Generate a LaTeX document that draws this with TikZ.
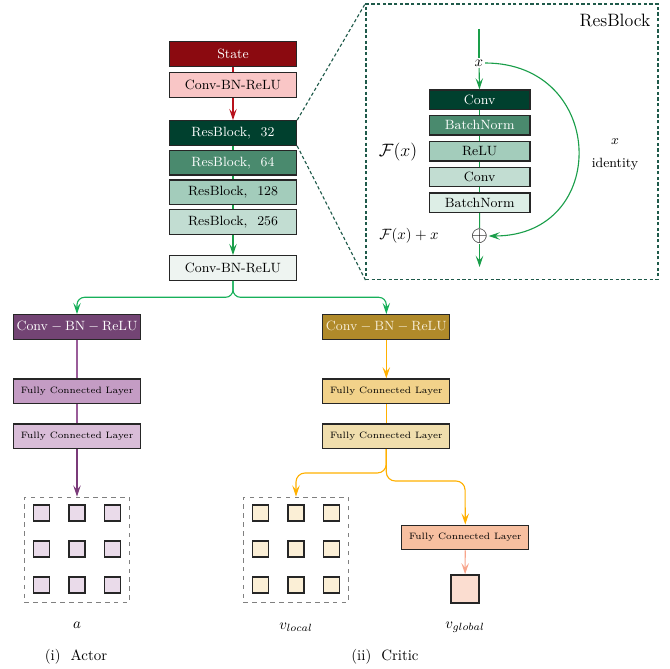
\documentclass[tikz,border=0pt]{standalone}
\usetikzlibrary{arrows.meta,positioning}
\definecolor{cState}{HTML}{8B0A10}
\definecolor{cPink}{HTML}{F9C6C6}
\definecolor{cRed}{HTML}{B8121C}
\definecolor{gA}{HTML}{00402E}
\definecolor{gB}{HTML}{4A8A6E}
\definecolor{gC}{HTML}{A3CCBB}
\definecolor{gD}{HTML}{C2DDD2}
\definecolor{gE}{HTML}{DDEEE6}
\definecolor{gF}{HTML}{EEF4F1}
\definecolor{cGreen}{HTML}{1A9E4A}
\definecolor{cGreenB}{HTML}{17B05A}
\definecolor{cTeal}{HTML}{1F5A4A}
\definecolor{pA}{HTML}{734474}
\definecolor{pB}{HTML}{C49CC4}
\definecolor{pC}{HTML}{D9BDD8}
\definecolor{pD}{HTML}{EADBEA}
\definecolor{cPurple}{HTML}{9A5C99}
\definecolor{cPurpleD}{HTML}{7A3A79}
\definecolor{oA}{HTML}{B08A2A}
\definecolor{oB}{HTML}{F2D28A}
\definecolor{oC}{HTML}{F0DEAD}
\definecolor{oD}{HTML}{FBEFD6}
\definecolor{cOrange}{HTML}{FFB000}
\definecolor{sA}{HTML}{F7BFA0}
\definecolor{sB}{HTML}{FBDDD0}
\definecolor{cSalmon}{HTML}{F7A58C}
\definecolor{cCream}{HTML}{F7EED8}
\tikzset{
  box/.style={draw=black!85, line width=0.9pt, minimum width=85.1pt, minimum height=16.4pt, inner sep=0pt, font=\small},
  ibox/.style={draw=black!85, line width=0.9pt, minimum width=67.5pt, minimum height=12.9pt, inner sep=0pt, font=\small},
  fcbox/.style={box, font=\fontsize{6.2}{7}\selectfont},
  sq/.style={draw=black!85, line width=0.8pt, minimum size=10.7pt, inner sep=0pt},
  gridbox/.style={draw=black!50, dashed, line width=0.8pt, minimum size=70.4pt, inner sep=0pt},
  conn/.style={line width=0.75pt},
  tip/.style={-{Stealth[length=7.5pt,width=5pt,inset=3pt]}},
}
\begin{document}
\begin{tikzpicture}[x=0.67pt,y=-0.67pt]
\useasboundingbox (0,0) rectangle (670,669);
% main column
\node[box, fill=cState, text=white] (state) at (233,54) {State};
\node[box, fill=cPink] (cbr1) at (233,85) {Conv-BN-ReLU};
\node[box, fill=gA, text=white] (rb1) at (233,133) {ResBlock,\hspace{6.5pt}32};
\node[box, fill=gB, text=white] (rb2) at (233,162.7) {ResBlock,\hspace{6.5pt}64};
\node[box, fill=gC] (rb3) at (233,192.3) {ResBlock,\hspace{6.5pt}128};
\node[box, fill=gD] (rb4) at (233,222) {ResBlock,\hspace{6.5pt}256};
\node[box, fill=gF] (cbr2) at (233,268) {Conv-BN-ReLU};
\draw[conn, cRed] (state) -- (cbr1);
\draw[conn, cRed, tip] (cbr1) -- (rb1);
\draw[conn, cGreen] (rb1) -- (rb2);
\draw[conn, cGreen] (rb2) -- (rb3);
\draw[conn, cGreen] (rb3) -- (rb4);
\draw[conn, cGreen, tip] (rb4) -- (cbr2);
% inset
\node[draw=cTeal, dash pattern=on 2.2pt off 1.6pt, line width=0.8pt, minimum width=195.6pt, minimum height=184.6pt, inner sep=0pt] (inset) at (512,141.7) {};
\draw[conn, cTeal, dash pattern=on 2.2pt off 1.6pt] (rb1.north east) -- (inset.north west);
\draw[conn, cTeal, dash pattern=on 2.2pt off 1.6pt] (rb1.south east) -- (inset.south west);
\node[font=\large] (title) at (615,20) {ResBlock};
\coordinate (itop) at (479,29);
\node[inner sep=1pt] (xin) at (479,63) {$x$};
\node[ibox, fill=gA, text=white] (i1) at (479.7,99.7) {Conv};
\node[ibox, fill=gB, text=white] (i2) at (479.7,125.3) {BatchNorm};
\node[ibox, fill=gC] (i3) at (479.7,151.3) {ReLU};
\node[ibox, fill=gD] (i4) at (479.7,177) {Conv};
\node[ibox, fill=gE] (i5) at (479.7,202.8) {BatchNorm};
\node[inner sep=0.3pt, font=\Large] (plus) at (479.5,236) {$\oplus$};
\coordinate (iout) at (479.5,267);
\node[font=\large] (fx) at (398,152) {$\mathcal{F}(x)$};
\node (fxx) at (409,236) {$\mathcal{F}(x)+x$};
\node[font=\small] (xid) at (615,141.5) {$x$};
\node[font=\small] (ident) at (615,164) {identity};
\draw[conn, cGreen] (itop) -- (xin);
\draw[conn, cGreen, tip] (xin) -- (i1);
\draw[conn, cGreen] (i1) -- (i2);
\draw[conn, cGreen] (i2) -- (i3);
\draw[conn, cGreen] (i3) -- (i4);
\draw[conn, cGreen] (i4) -- (i5);
\draw[conn, cGreen] (i5) -- (plus);
\draw[conn, cGreen, tip] (plus) -- (iout);
\draw[conn, cGreen, tip] (xin.east) to[out=0, in=0, looseness=1.8] (plus.east);
% actor
\node[box, fill=pA, text=white] (aconv) at (77,327) {$\mathrm{Conv}-\mathrm{BN}-\mathrm{ReLU}$};
\node[fcbox, fill=pB] (afc1) at (77,391.3) {Fully Connected Layer};
\node[fcbox, fill=pC] (afc2) at (77,436.3) {Fully Connected Layer};
\node[gridbox] (agrid) at (77,549.7) {};
\foreach \i/\xx in {1/41.5,2/77,3/112.5}{
  \foreach \j/\yy in {1/513,2/549,3/585}{
    \node[sq, fill=pD] (a\i\j) at (\xx,\yy) {};
  }
}
\node (alab) at (77,625) {$a$};
\node (acap) at (76,657) {(i)\ \ Actor};
\draw[conn, cPurple] (aconv) -- (afc1);
\draw[conn, cPurple] (afc1) -- (afc2);
\draw[conn, cPurpleD, tip] (afc2) -- (agrid);
% critic
\node[box, fill=oA, text=cCream] (cconv) at (386.3,327) {$\mathrm{Conv}-\mathrm{BN}-\mathrm{ReLU}$};
\node[fcbox, fill=oB] (cfc1) at (386.3,391.3) {Fully Connected Layer};
\node[fcbox, fill=oC] (cfc2) at (386.3,436.3) {Fully Connected Layer};
\node[gridbox] (cgrid) at (296,549.7) {};
\foreach \i/\xx in {1/260.7,2/296,3/331.3}{
  \foreach \j/\yy in {1/513,2/549,3/585}{
    \node[sq, fill=oD] (c\i\j) at (\xx,\yy) {};
  }
}
\node[fcbox, fill=sA] (fcg) at (465.3,537.5) {Fully Connected Layer};
\node[draw=black!85, line width=0.9pt, minimum size=18.8pt, inner sep=0pt, fill=sB] (gsq) at (465,589) {};
\node (vloc) at (296,627) {$v_{local}$};
\node (vglob) at (465,627) {$v_{global}$};
\node (ccap) at (385,657) {(ii)\ \ Critic};
\draw[conn, cOrange, tip] (cconv) -- (cfc1);
\draw[conn, cOrange] (cfc1) -- (cfc2);
\coordinate (lb) at (296,473);
\coordinate (rb) at (465,481);
\draw[conn, cOrange, tip, rounded corners=6pt] (cfc2.south) |- (lb) -- (cgrid.north);
\draw[conn, cOrange, tip, rounded corners=6pt] (cfc2.south) |- (rb) -- (fcg.north);
\draw[conn, cSalmon, tip] (fcg) -- (gsq);
% split from main column
\coordinate (sa) at (77,297.3);
\coordinate (sc) at (386.3,297.3);
\draw[conn, cGreenB, tip, rounded corners=5pt] (cbr2.south) |- (sa) -- (aconv.north);
\draw[conn, cGreenB, tip, rounded corners=5pt] (cbr2.south) |- (sc) -- (cconv.north);
\end{tikzpicture}
\end{document}
